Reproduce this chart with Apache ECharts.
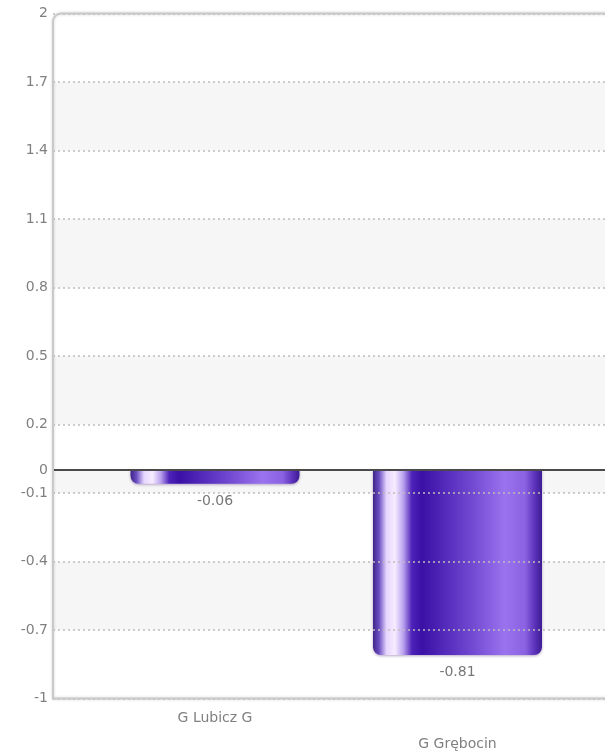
<!DOCTYPE html>
<html><head><meta charset="utf-8">
<script src="https://cdn.jsdelivr.net/npm/echarts@6/dist/echarts.min.js"></script>
<style>html,body{margin:0;padding:0;background:#fff}#c{width:605px;height:751px}</style>
</head><body><div id="c"></div>
<script>
const categories = ['G Lubicz G', 'G Grębocin'];
const values = [-0.06, -0.81];
const yTicks = [2, 1.7, 1.4, 1.1, 0.8, 0.5, 0.2, 0, -0.1, -0.4, -0.7, -1];
const yMin = -1, yMax = 2, yStep = 0.1;

const asc = yTicks.slice().sort((a, b) => a - b);
const bands = [];
for (let i = 0; i < asc.length - 1; i++) {
  if (i % 2 === 1) bands.push([{ yAxis: asc[i] }, { yAxis: asc[i + 1] }]);
}
const gridLines = yTicks.filter(v => v !== 0).map(v => ({
  yAxis: v, lineStyle: { color: '#bdbdbd', width: 1.5, type: [2, 3] }
}));
const zeroLine = yTicks.filter(v => v === 0).map(v => ({
  yAxis: v, lineStyle: { color: '#4a4a4a', width: 2, type: 'solid' }
}));
const isTick = v => yTicks.some(t => Math.abs(t - v) < 1e-6);
const fmt = v => String(Math.round(v * 10) / 10);

const gTop = 13.5, gBottom = 52.5;
const txt = '#808080';
const font = 'DejaVu Sans';

const chart = echarts.init(document.getElementById('c'), null, { renderer: 'canvas' });
chart.setOption({
  backgroundColor: '#fff',
  animation: false,
  grid: [
    { left: 53, top: gTop, bottom: gBottom, right: 0, containLabel: false, outerBoundsMode: 'none' },
    { left: 93.75, top: gTop, bottom: gBottom, right: 26.25, containLabel: false, outerBoundsMode: 'none' }
  ],
  xAxis: [
    { type: 'value', gridIndex: 0, min: 0, max: 1, show: false },
    {
      type: 'category', gridIndex: 1, data: categories,
      axisLine: { show: false }, axisTick: { show: false },
      axisLabel: {
        interval: 0, margin: 7, color: txt, fontSize: 14, fontFamily: font, lineHeight: 26,
        formatter: (v, i) => (i % 2 === 1 ? '\n' + v : v)
      }
    }
  ],
  yAxis: [
    {
      type: 'value', gridIndex: 0, min: yMin, max: yMax, interval: yStep,
      axisLine: { show: false }, axisTick: { show: false }, splitLine: { show: false },
      axisLabel: {
        margin: 5, color: txt, fontSize: 14, fontFamily: font,
        formatter: v => (isTick(v) ? fmt(v) : '')
      }
    },
    { type: 'value', gridIndex: 1, min: yMin, max: yMax, show: false }
  ],
  graphic: [{
    type: 'rect', z: 100, silent: true,
    shape: { x: 53, y: gTop, width: 1000, height: 751 - gTop - gBottom, r: [8, 0, 0, 0] },
    style: { fill: 'none', stroke: '#c9c9c9', lineWidth: 2, shadowBlur: 3, shadowColor: 'rgba(0,0,0,0.18)' }
  }],
  series: [
    {
      type: 'line', xAxisIndex: 0, yAxisIndex: 0, data: [], silent: true, z: 1,
      markArea: { silent: true, label: { show: false }, itemStyle: { color: '#f6f6f6' }, data: bands }
    },
    {
      type: 'line', xAxisIndex: 0, yAxisIndex: 0, data: [], silent: true, z: 1,
      markLine: { silent: true, symbol: 'none', label: { show: false }, data: gridLines }
    },
    {
      type: 'bar', xAxisIndex: 1, yAxisIndex: 1, data: values, barWidth: 169, z: 3,
      itemStyle: {
        borderRadius: [0, 0, 8, 8],
        shadowBlur: 3, shadowColor: 'rgba(40,0,90,0.35)', shadowOffsetY: 1,
        color: {
          type: 'linear', x: 0, y: 0, x2: 1, y2: 0,
          colorStops: [
            { offset: 0, color: '#3f2488' },
            { offset: 0.035, color: '#6a4cc0' },
            { offset: 0.08, color: '#e6d6ff' },
            { offset: 0.13, color: '#f6ecff' },
            { offset: 0.18, color: '#b9a0ee' },
            { offset: 0.23, color: '#4d22b8' },
            { offset: 0.29, color: '#3a10a6' },
            { offset: 0.55, color: '#6a42cc' },
            { offset: 0.78, color: '#9b72ee' },
            { offset: 0.9, color: '#8a62e2' },
            { offset: 0.96, color: '#5a30b8' },
            { offset: 1, color: '#3c1c92' }
          ]
        }
      },
      label: {
        show: true, position: 'outside', distance: 10,
        color: '#777', fontSize: 14, fontFamily: font,
        formatter: p => String(p.value)
      }
    },
    {
      type: 'line', xAxisIndex: 0, yAxisIndex: 0, data: [], silent: true, z: 5,
      markLine: { silent: true, symbol: 'none', label: { show: false }, data: zeroLine }
    }
  ]
});
</script></body></html>
